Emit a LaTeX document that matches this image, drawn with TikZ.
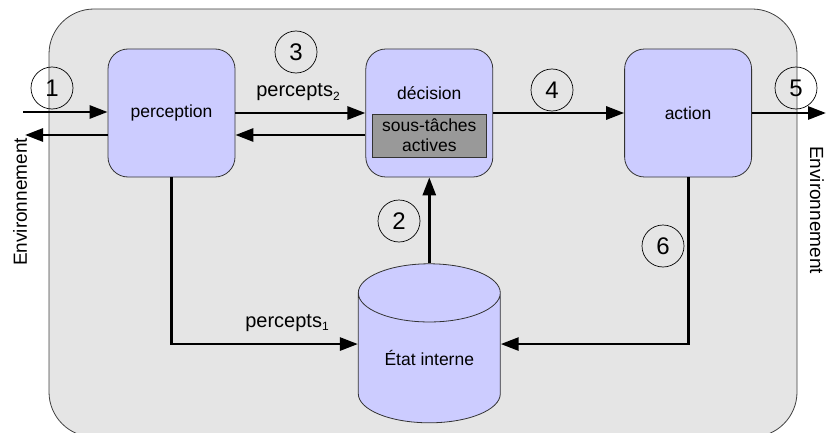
\documentclass[tikz,border=0pt]{standalone}
\usepackage{fontspec}
\setmainfont{Liberation Sans}
\usepackage{tikz}
\usetikzlibrary{arrows.meta,positioning,shapes.geometric}
\tikzset{
	>={Triangle[length=18pt,width=13pt]},
	every edge/.style={draw=black, line width=2.8pt},
}

\begin{document}
\begin{tikzpicture}
	[x=1pt, y=1pt, font=\fontsize{17.5}{20}\selectfont,
		% STYLES
		% The module style is used for the three processing boxes
		module/.style={rectangle, rounded corners=20pt, draw=black!80,
				fill=blue!20, line width=0.8pt, minimum width=127pt,
				minimum height=128pt, inner sep=0pt},
		% The subbox style is used for the active sub-tasks
		subbox/.style={rectangle, draw=black!80, fill=black!40,
				line width=0.8pt, minimum width=114pt, minimum height=43pt,
				inner sep=0pt, align=center},
		% The memory style is used for the internal state
		memory/.style={cylinder, shape border rotate=90, aspect=0.65,
				draw=black!80, fill=blue!20, line width=0.8pt,
				minimum width=142pt, minimum height=159pt, inner sep=0pt},
		% The num style is used for the circled numbers
		num/.style={circle, draw=black, line width=0.7pt, minimum size=42pt,
				inner sep=0pt, font=\fontsize{24}{24}\selectfont},
		env/.style={font=\fontsize{19}{19}\selectfont},
		flow/.style={draw=black, line width=2.8pt, ->}]

	\useasboundingbox (0,0) rectangle (826,432);

	% Agent
	\begin{scope}
		\clip (0,0) rectangle (826,432);
		\filldraw[fill=black!10, draw=black!75, line width=0.8pt,
			rounded corners=45pt] (49,-5) rectangle (797,423);
	\end{scope}

	% Modules
	\node [module] (perc) at (171.5,319) {perception};
	\node [module, right=130pt of perc] (dec) {};
	\node (dectxt) at ([yshift=20pt]dec.center) {décision};
	\node [subbox] (sub) at ([yshift=-22.5pt]dec.center) {sous-tâches\\actives};
	\node [module, right=131pt of dec] (act) {action};
	\node [memory, below=86pt of dec] (etat) {État interne};

	% Environment
	\node [env, rotate=90] (envL) at (20,230) {Environnement};
	\node [env, rotate=-90] (envR) at (817,222) {Environnement};
	\coordinate (envin) at (23,320);
	\coordinate (envout) at (25,297);
	\coordinate (envright) at (826,319);

	% Flows
	\path[->]
	(envin) edge (envin -| perc.west)
	([yshift=-22pt]perc.west) edge (envout)
	(perc.east) edge (dec.west)
	([yshift=-22pt]dec.west) edge ([yshift=-22pt]perc.east)
	(dec.east) edge (act.west)
	(act.east) edge (envright)
	(dec.south |- etat.north) edge (dec.south);
	\draw[flow] (perc.south) |- ([yshift=14pt]etat.west);
	\draw[flow] (act.south) |- ([yshift=14pt]etat.east);

	% Labels
	\node [anchor=base, font=\fontsize{20}{20}\selectfont] (p2) at (298,335)
	{percepts\raisebox{-3pt}{\fontsize{12}{12}\selectfont 2}};
	\node [anchor=base, font=\fontsize{20}{20}\selectfont] (p1) at (287,105)
	{percepts\raisebox{-3pt}{\fontsize{12}{12}\selectfont 1}};

	% Numbers
	\node [num] (n1) at (52,344) {1};
	\node [num] (n2) at (399,211) {2};
	\node [num] (n3) at (296,380) {3};
	\node [num] (n4) at (552,342) {4};
	\node [num] (n5) at (796,344) {5};
	\node [num] (n6) at (663,186) {6};

\end{tikzpicture}
\end{document}
